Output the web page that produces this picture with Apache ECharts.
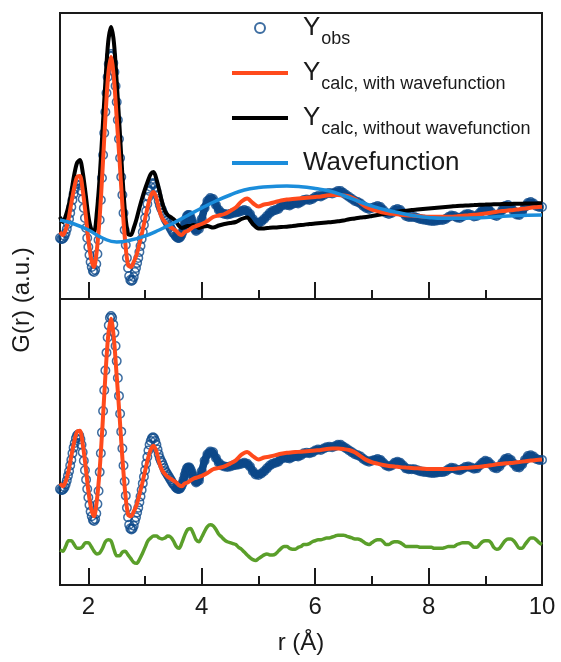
<!DOCTYPE html>
<html>
<head>
<meta charset="utf-8">
<title>G(r) fit</title>
<script src="https://cdn.jsdelivr.net/npm/echarts@6/dist/echarts.min.js"></script>
<style>
  html, body { margin: 0; padding: 0; background: #fff; }
  #chart { width: 561px; height: 662px; }
</style>
</head>
<body>
<div id="chart"></div>
<script>
// sample positions (r in Å)
function seq(start, stop, step) {
  const out = [];
  const n = Math.round((stop - start) / step);
  for (let i = 0; i <= n; i++) out.push(+(start + i * step).toFixed(2));
  return out;
}
const rObs = seq(1.5, 3.9, 0.02).concat(seq(3.95, 10, 0.05));
const rLine = seq(1.5, 4.0, 0.05).concat(seq(4.1, 10, 0.1));
const rWave = seq(1.5, 10, 0.25);
const rDiff = seq(1.5, 10, 0.05);

const gObs = [
  0.12, 0.11, 0.11, 0.12, 0.14, 0.17, 0.21, 0.26, 0.31, 0.37,
  0.43, 0.50, 0.56, 0.61, 0.66, 0.69, 0.70, 0.69, 0.65, 0.59,
  0.51, 0.42, 0.32, 0.22, 0.12, 0.03, -0.05, -0.12, -0.17, -0.21,
  -0.22, -0.20, -0.14, -0.04, 0.10, 0.30, 0.50, 0.72, 0.95, 1.17,
  1.38, 1.57, 1.73, 1.86, 1.94, 1.96, 1.94, 1.87, 1.78, 1.64,
  1.48, 1.30, 1.11, 0.92, 0.73, 0.55, 0.37, 0.20, 0.05, -0.08,
  -0.18, -0.26, -0.30, -0.31, -0.30, -0.27, -0.22, -0.18, -0.13, -0.08,
  -0.02, 0.04, 0.11, 0.18, 0.25, 0.32, 0.39, 0.46, 0.53, 0.59,
  0.63, 0.66, 0.67, 0.66, 0.63, 0.59, 0.54, 0.49, 0.45, 0.42,
  0.40, 0.37, 0.34, 0.31, 0.29, 0.27, 0.25, 0.23, 0.21, 0.19,
  0.17, 0.16, 0.14, 0.13, 0.12, 0.12, 0.13, 0.15, 0.18, 0.22,
  0.27, 0.31, 0.34, 0.35, 0.35, 0.33, 0.30, 0.27, 0.24, 0.21,
  0.19,
  0.21, 0.31, 0.42, 0.49, 0.52, 0.51, 0.45, 0.40, 0.37, 0.36,
  0.355, 0.36, 0.37, 0.375, 0.38, 0.39, 0.40, 0.39, 0.36, 0.31,
  0.275, 0.27, 0.285, 0.31, 0.34, 0.37, 0.39, 0.40, 0.41, 0.44,
  0.455, 0.45, 0.445, 0.46, 0.47, 0.465, 0.48, 0.50, 0.505, 0.50,
  0.51, 0.53, 0.54, 0.535, 0.55, 0.565, 0.57, 0.565, 0.575, 0.59,
  0.59, 0.57, 0.55, 0.53, 0.51, 0.49, 0.48, 0.465, 0.44, 0.42,
  0.41,
  0.42, 0.43, 0.44, 0.43, 0.40, 0.37, 0.36, 0.37, 0.40, 0.41,
  0.40, 0.37, 0.34, 0.33, 0.33, 0.33, 0.32, 0.31, 0.305, 0.30,
  0.295, 0.29, 0.29, 0.295, 0.30, 0.30, 0.31, 0.33, 0.345, 0.34,
  0.325, 0.32, 0.335, 0.355, 0.36, 0.35, 0.335, 0.34, 0.37, 0.40,
  0.42, 0.41, 0.38, 0.35, 0.34, 0.36, 0.40, 0.44, 0.45, 0.43,
  0.39, 0.355, 0.35, 0.38, 0.43, 0.47, 0.48, 0.465, 0.44, 0.43,
  0.43
];

// calculated with wavefunction
const gCalcWith = [
  0.18, 0.15, 0.20, 0.31, 0.47, 0.62, 0.73, 0.74, 0.60, 0.37,
  0.10, -0.09, -0.17, 0.00, 0.33, 0.80, 1.32, 1.75, 1.93, 1.72,
  1.32, 0.90, 0.45, 0.08, -0.15, -0.17, -0.12, -0.05, 0.06, 0.18,
  0.31, 0.44, 0.54, 0.58, 0.52, 0.40, 0.32, 0.28, 0.25, 0.23,
  0.21, 0.19, 0.16, 0.15, 0.18, 0.19, 0.21, 0.23, 0.24, 0.25,
  0.26,
  0.29, 0.33, 0.345, 0.36, 0.39, 0.425, 0.485, 0.515, 0.47, 0.435,
  0.455, 0.465, 0.48, 0.495, 0.505, 0.51, 0.515, 0.52, 0.525, 0.53,
  0.535, 0.545, 0.55, 0.55, 0.545, 0.535, 0.51, 0.47, 0.43, 0.405,
  0.39, 0.375, 0.365, 0.36, 0.353, 0.348, 0.344, 0.34, 0.336, 0.333,
  0.333, 0.333, 0.333, 0.333, 0.338, 0.343, 0.347, 0.352, 0.357, 0.364,
  0.372, 0.383, 0.39, 0.395, 0.40, 0.408, 0.415, 0.423, 0.428, 0.433
];

// calculated without wavefunction
const gCalcWithout = [
  0.33, 0.28, 0.34, 0.44, 0.58, 0.75, 0.87, 0.90, 0.78, 0.57,
  0.34, 0.21, 0.18, 0.38, 0.73, 1.20, 1.68, 2.08, 2.23, 2.08,
  1.68, 1.23, 0.75, 0.36, 0.16, 0.15, 0.22, 0.31, 0.42, 0.52,
  0.61, 0.69, 0.76, 0.78, 0.71, 0.60, 0.48, 0.39, 0.35, 0.33,
  0.31, 0.28, 0.24, 0.22, 0.23, 0.24, 0.24, 0.25, 0.24, 0.22,
  0.23,
  0.24, 0.225, 0.245, 0.26, 0.27, 0.28, 0.31, 0.325, 0.26, 0.215,
  0.215, 0.223, 0.225, 0.23, 0.233, 0.24, 0.247, 0.253, 0.26, 0.265,
  0.27, 0.275, 0.28, 0.287, 0.295, 0.308, 0.315, 0.325, 0.33, 0.34,
  0.35, 0.36, 0.37, 0.38, 0.387, 0.393, 0.40, 0.405, 0.41, 0.415,
  0.42, 0.425, 0.43, 0.435, 0.44, 0.443, 0.446, 0.449, 0.452, 0.454,
  0.456, 0.457, 0.459, 0.46, 0.462, 0.463, 0.464, 0.465, 0.466, 0.467
];

// wavefunction contribution
const gWave = [
  0.30, 0.26, 0.20, 0.12, 0.08, 0.10, 0.14, 0.20, 0.27, 0.345,
  0.42, 0.49, 0.55, 0.60, 0.625, 0.635, 0.64, 0.633, 0.615, 0.59,
  0.545, 0.49, 0.44, 0.40, 0.37, 0.343, 0.325, 0.317, 0.317, 0.32,
  0.325, 0.335, 0.343, 0.347, 0.35
];

// difference curve (bottom panel units)
const gDiff = [
  -0.53, -0.54, -0.49, -0.43, -0.43, -0.47, -0.51, -0.51, -0.49, -0.45,
  -0.45, -0.49, -0.54, -0.57, -0.56, -0.51, -0.44, -0.42, -0.43, -0.52,
  -0.59, -0.59, -0.55, -0.54, -0.58, -0.62, -0.66, -0.67, -0.63, -0.57,
  -0.50, -0.43, -0.40, -0.38, -0.38, -0.40, -0.41, -0.40, -0.38, -0.39,
  -0.43, -0.49, -0.51, -0.45, -0.37, -0.31, -0.30, -0.35, -0.42, -0.44,
  -0.39, -0.33, -0.28, -0.26, -0.27, -0.31, -0.36, -0.39, -0.42, -0.44,
  -0.45, -0.46, -0.47, -0.50, -0.52, -0.55, -0.58, -0.61, -0.63, -0.64,
  -0.62, -0.60, -0.58, -0.57, -0.58, -0.58, -0.57, -0.54, -0.51, -0.49,
  -0.49, -0.51, -0.52, -0.52, -0.50, -0.49, -0.47, -0.47, -0.46, -0.44,
  -0.43, -0.42, -0.42, -0.41, -0.40, -0.40, -0.39, -0.38, -0.37, -0.37,
  -0.37, -0.38, -0.39, -0.40, -0.41, -0.41, -0.42, -0.44, -0.46, -0.47,
  -0.45, -0.43, -0.42, -0.42, -0.44, -0.47, -0.47, -0.45, -0.44, -0.44,
  -0.45, -0.47, -0.49, -0.49, -0.49, -0.49, -0.49, -0.50, -0.50, -0.50,
  -0.50, -0.50, -0.51, -0.51, -0.51, -0.51, -0.50, -0.49, -0.49, -0.49,
  -0.47, -0.46, -0.45, -0.45, -0.45, -0.47, -0.50, -0.50, -0.47, -0.44,
  -0.43, -0.43, -0.45, -0.50, -0.52, -0.51, -0.47, -0.43, -0.41, -0.41,
  -0.43, -0.47, -0.51, -0.51, -0.47, -0.43, -0.40, -0.40, -0.42, -0.45,
  -0.47
];

const majorTicks = [2, 4, 6, 8, 10];
const minorTicks = [3, 5, 7, 9];

const FONT = '"Liberation Sans", Arial, Helvetica, sans-serif';
const INK = '#1a1a1a';
const OBS_BLUE = '#0d4889';
const RED = '#ff4a1c';
const WAVE_BLUE = '#1b8ddb';
const GREEN = '#5a9f2a';
const BAR_ICON = 'path://M0,0H56V4H0Z';

const pts = (rs, gs) => rs.map((r, i) => [r, gs[i]]);
// past the peaks the markers sit so close that they merge into a band
const bandFrom = rObs.indexOf(3.5);

const legendText = {
  obs: '{Y|Y}{s|obs}',
  with: '{Y|Y}{s|calc, with wavefunction}',
  without: '{Y|Y}{s|calc, without wavefunction}',
  wave: '{w|Wavefunction}'
};

function xAxisPair(gridIndex, withLabels) {
  return [
    {
      type: 'value', gridIndex, min: 1.5, max: 10, position: 'bottom',
      axisLine: { show: false, onZero: false },
      splitLine: { show: false },
      axisTick: {
        show: true, inside: true, length: 17, customValues: majorTicks,
        lineStyle: { color: INK, width: 2 }
      },
      axisLabel: {
        show: withLabels, customValues: majorTicks, margin: 10,
        fontSize: 24, fontFamily: FONT, color: INK
      },
      name: withLabels ? 'r (Å)' : '',
      nameLocation: 'middle', nameGap: 46,
      nameTextStyle: { fontSize: 24, fontFamily: FONT, color: INK }
    },
    {
      type: 'value', gridIndex, min: 1.5, max: 10, position: 'bottom',
      axisLine: { show: false, onZero: false },
      splitLine: { show: false },
      axisTick: {
        show: true, inside: true, length: 9, customValues: minorTicks,
        lineStyle: { color: INK, width: 2 }
      },
      axisLabel: { show: false }
    }
  ];
}

function obsSeries(xi, yi) {
  return [
    {
      name: 'obsBand', type: 'line', xAxisIndex: xi, yAxisIndex: yi,
      data: pts(rObs.slice(bandFrom), gObs.slice(bandFrom)), symbol: 'none', smooth: 0.3,
      lineStyle: { color: OBS_BLUE, width: 7.5 }, silent: true, z: 1
    },
    {
      name: 'obs', type: 'scatter', xAxisIndex: xi, yAxisIndex: yi,
      data: pts(rObs, gObs), symbol: 'circle', symbolSize: 8.5,
      itemStyle: { color: 'rgba(255,255,255,0)', borderColor: OBS_BLUE, borderWidth: 1.5 },
      emphasis: { disabled: true }, z: 2
    }
  ];
}

const chart = echarts.init(document.getElementById('chart'));

chart.setOption({
  animation: false,
  backgroundColor: '#fff',
  grid: [
    { left: 60, right: 19, top: 13, height: 286, show: true, borderColor: INK, borderWidth: 2 },
    { left: 60, right: 19, top: 299, height: 286, show: true, borderColor: INK, borderWidth: 2 }
  ],
  xAxis: xAxisPair(0, false).concat(xAxisPair(1, true)),
  yAxis: [
    { type: 'value', gridIndex: 0, min: -0.49, max: 2.37, show: false },
    { type: 'value', gridIndex: 1, min: -0.90, max: 2.14, show: false }
  ],
  legend: {
    data: [
      { name: 'obs' },
      { name: 'with', icon: BAR_ICON },
      { name: 'without', icon: BAR_ICON },
      { name: 'wave', icon: BAR_ICON }
    ],
    orient: 'vertical',
    left: 232, top: 8,
    padding: 0,
    itemWidth: 56, itemHeight: 10, itemGap: 5,
    selectedMode: false,
    formatter: name => legendText[name],
    textStyle: {
      fontFamily: FONT, color: INK,
      rich: {
        Y: { fontSize: 26, lineHeight: 40, padding: [0, 0, 0, 10], fontFamily: FONT, color: INK },
        w: { fontSize: 26, lineHeight: 26, padding: [7, 0, 7, 10], fontFamily: FONT, color: INK },
        s: { fontSize: 18, lineHeight: 18, padding: [22, 0, 0, 1], fontFamily: FONT, color: INK }
      }
    }
  },
  graphic: [{
    type: 'text', x: 22, y: 300, rotation: Math.PI / 2,
    style: {
      text: 'G(r) (a.u.)', fontSize: 24, fontFamily: FONT, fill: INK,
      align: 'center', verticalAlign: 'middle'
    }
  }],
  series: obsSeries(0, 0).concat([
    {
      name: 'without', type: 'line', xAxisIndex: 0, yAxisIndex: 0,
      data: pts(rLine, gCalcWithout), symbol: 'none', smooth: 0.3,
      lineStyle: { color: '#000', width: 4 }, itemStyle: { color: '#000' }, z: 3
    },
    {
      name: 'with', type: 'line', xAxisIndex: 0, yAxisIndex: 0,
      data: pts(rLine, gCalcWith), symbol: 'none', smooth: 0.3,
      lineStyle: { color: RED, width: 4 }, itemStyle: { color: RED }, z: 4
    },
    {
      name: 'wave', type: 'line', xAxisIndex: 0, yAxisIndex: 0,
      data: pts(rWave, gWave), symbol: 'none', smooth: true,
      lineStyle: { color: WAVE_BLUE, width: 3.5 }, itemStyle: { color: WAVE_BLUE }, z: 5
    }
  ], obsSeries(2, 1), [
    {
      name: 'with', type: 'line', xAxisIndex: 2, yAxisIndex: 1,
      data: pts(rLine, gCalcWith), symbol: 'none', smooth: 0.3,
      lineStyle: { color: RED, width: 4 }, itemStyle: { color: RED }, z: 4
    },
    {
      name: 'diff', type: 'line', xAxisIndex: 2, yAxisIndex: 1,
      data: pts(rDiff, gDiff), symbol: 'none', smooth: 0.3,
      lineStyle: { color: GREEN, width: 3.5 }, itemStyle: { color: GREEN }, z: 4
    }
  ])
});
</script>
</body>
</html>
